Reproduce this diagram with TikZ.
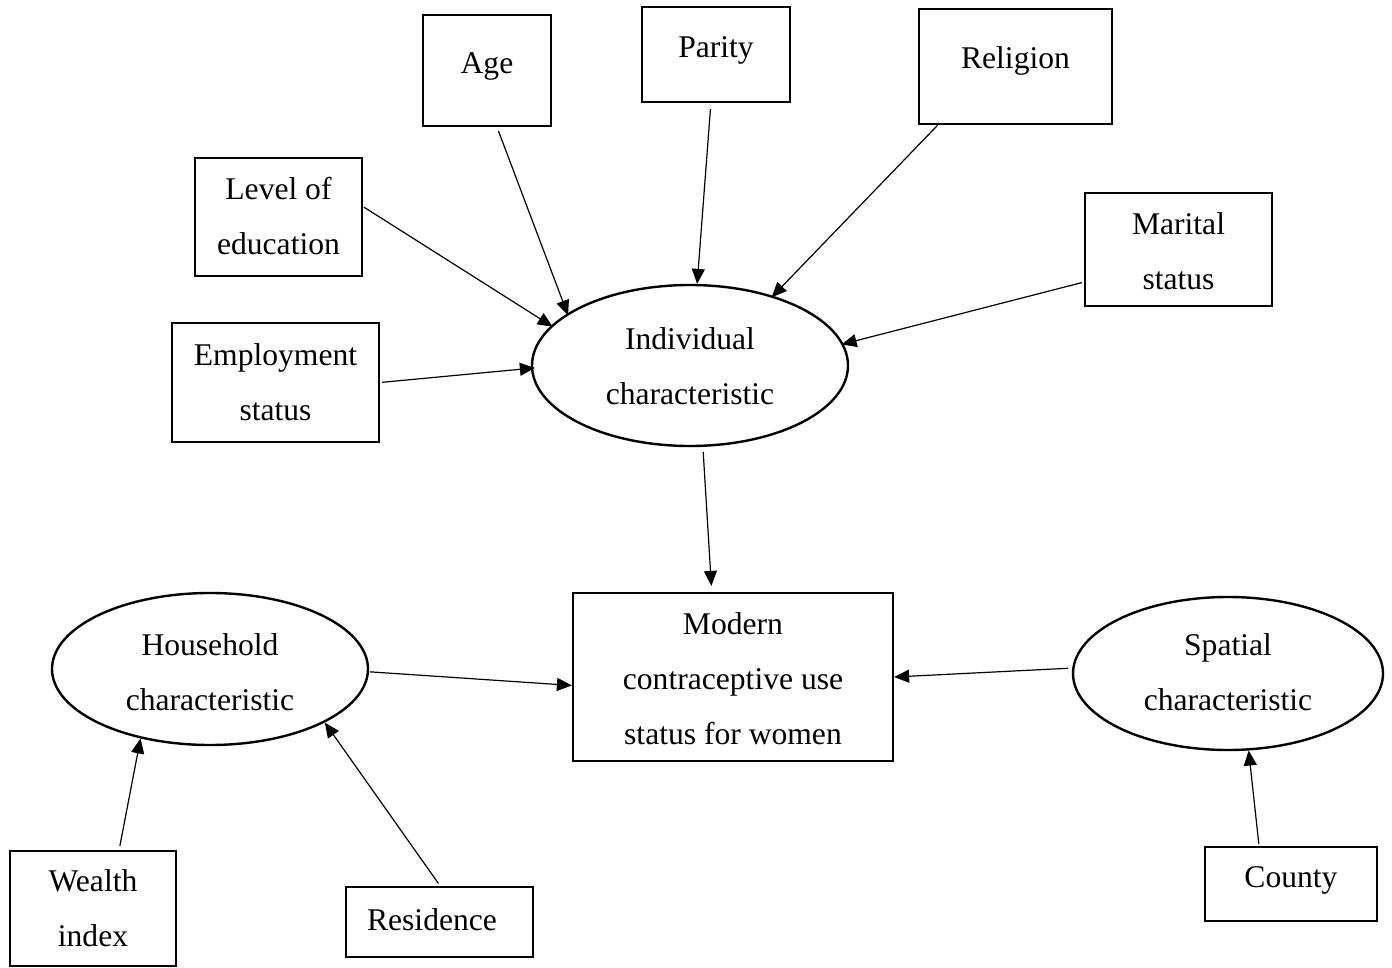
\documentclass[tikz,border=0pt]{standalone}
\usepackage{fontspec}
\setmainfont{Liberation Serif}
\usetikzlibrary{arrows.meta,shapes.geometric}
\begin{document}
\begin{tikzpicture}[x=1pt,y=-1pt,
  box/.style={draw,line width=2.2pt,rectangle,inner sep=0pt},
  oval/.style={draw,line width=2.4pt,ellipse,inner sep=0pt},
  lbl/.style={font=\fontsize{31.6}{55}\selectfont,align=center,inner sep=0pt},
  arr/.style={-{Triangle[length=15pt,width=13pt]},line width=1.2pt}]
\useasboundingbox (0,0) rectangle (1392,968);

% boxes
\node[box,minimum width=128pt,minimum height=111pt] (age) at (487,70.5) {};
\node[lbl] (agetxt) at (487,66) {Age};
\node[box,minimum width=148pt,minimum height=95pt] (par) at (716,54.5) {};
\node[lbl] (partxt) at (716,50) {Parity};
\node[box,minimum width=193pt,minimum height=115pt] (rel) at (1015.5,66.5) {};
\node[lbl] (reltxt) at (1015.5,61) {Religion};
\node[box,minimum width=167pt,minimum height=118pt] (lvl) at (278.5,217) {};
\node[lbl] (lvltxt) at (278.5,216) {Level of\\education};
\node[box,minimum width=187pt,minimum height=113pt] (mar) at (1178.5,249.5) {};
\node[lbl] (martxt) at (1178.5,251) {Marital\\status};
\node[box,minimum width=207pt,minimum height=119pt] (emp) at (275.5,382.5) {};
\node[lbl] (emptxt) at (275.5,382) {Employment\\status};
\node[box,minimum width=320pt,minimum height=168pt] (mod) at (733,677) {};
\node[lbl] (modtxt) at (733,679) {Modern\\contraceptive use\\status for women};
\node[box,minimum width=166pt,minimum height=115pt] (wi) at (93,908.5) {};
\node[lbl] (witxt) at (93,908) {Wealth\\index};
\node[box,minimum width=187pt,minimum height=70pt] (res) at (439.5,922) {};
\node[lbl] (restxt) at (432,920) {Residence};
\node[box,minimum width=172pt,minimum height=74pt] (cty) at (1291,884) {};
\node[lbl] (ctytxt) at (1291,880) {County};

% ellipses
\node[oval,minimum width=316pt,minimum height=161pt] (ind) at (690,365.5) {};
\node[lbl] (indtxt) at (690,366.5) {Individual\\characteristic};
\node[oval,minimum width=316pt,minimum height=152pt] (hh) at (210,669) {};
\node[lbl] (hhtxt) at (210,672.5) {Household\\characteristic};
\node[oval,minimum width=310pt,minimum height=153pt] (sp) at (1228,673.5) {};
\node[lbl] (sptxt) at (1228,672.5) {Spatial\\characteristic};

% connectors
\draw[arr,shorten <=1pt,shorten >=-2pt] (lvl.7) -- (ind.164);
\draw[arr,shorten <=4pt,shorten >=-2pt] (age.-80) -- (ind.157);
\draw[arr,shorten <=6pt] (par.-96) -- (ind.85);
\draw[arr,shorten >=-2pt] (rel.-143) -- (ind.40);
\draw[arr,shorten <=2pt,shorten >=-2pt] (mar.-161) -- (ind.8);
\draw[arr,shorten <=2pt,shorten >=-4pt] (emp.0) -- (ind.-179);
\draw[arr,shorten <=5pt,shorten >=6pt] (ind.-81) -- (mod.104);
\draw[arr,shorten <=1pt] (hh.-1) -- (mod.-177.5);
\draw[arr,shorten <=4pt] (sp.178.4) -- (mod.-0.7);
\draw[arr,shorten <=4pt] (wi.66) -- (hh.-135);
\draw[arr,shorten <=3pt] (res.89) -- (hh.-25);
\draw[arr,shorten <=2pt] (cty.130) -- (sp.-75);
\end{tikzpicture}
\end{document}
